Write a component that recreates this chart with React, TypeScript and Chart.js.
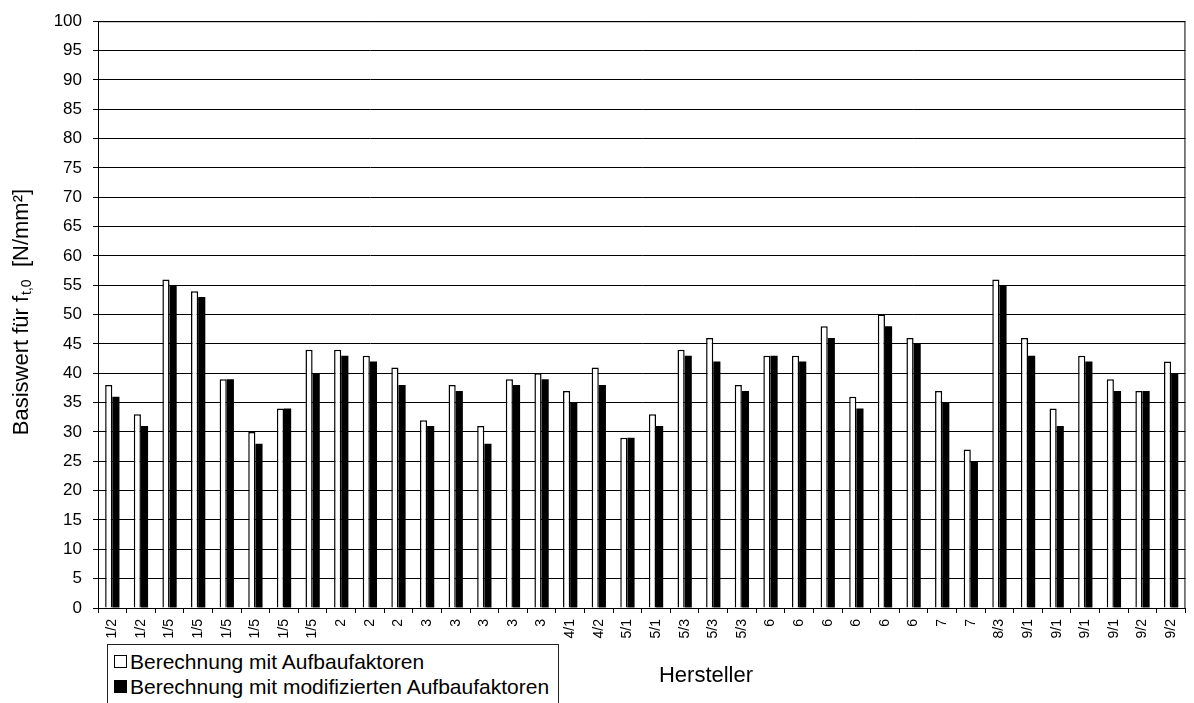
import React, { useEffect, useRef } from "react";
import { Chart, registerables } from "chart.js";

Chart.register(...registerables);

const categories = [
  "1/2", "1/2", "1/5", "1/5", "1/5", "1/5", "1/5", "1/5", "2", "2", "2", "3", "3", "3", "3", "3",
  "4/1", "4/2", "5/1", "5/1", "5/3", "5/3", "5/3", "6", "6", "6", "6", "6", "6", "7", "7", "8/3",
  "9/1", "9/1", "9/1", "9/1", "9/2", "9/2",
];
const withFactors = [
  38, 33, 56, 54, 39, 30, 34, 44, 44, 43, 41, 32, 38, 31, 39, 40,
  37, 41, 29, 33, 44, 46, 38, 43, 43, 48, 36, 50, 46, 37, 27, 56,
  46, 34, 43, 39, 37, 42,
];
const withModifiedFactors = [
  36, 31, 55, 53, 39, 28, 34, 40, 43, 42, 38, 31, 37, 28, 38, 39,
  35, 38, 29, 31, 43, 42, 37, 43, 42, 46, 34, 48, 45, 35, 25, 55,
  43, 31, 42, 37, 37, 40,
];
const yMin = 0;
const yMax = 100;
const yStep = 5;
const yTitleMain = "Basiswert für f";
const yTitleSub = "t,0";
const yTitleEnd = "  [N/mm²]";
const xTitle = "Hersteller";
const legendLabels = ["Berechnung mit Aufbaufaktoren", "Berechnung mit modifizierten Aufbaufaktoren"];

const FONT = '"Liberation Sans", Arial, Helvetica, sans-serif';

const decorPlugin = {
  id: "decor",
  afterDraw(chart: any) {
    const { ctx, chartArea: a } = chart;
    ctx.save();
    ctx.strokeStyle = "#000";
    ctx.lineWidth = 1;
    ctx.strokeRect(a.left + 0.5, a.top + 0.5, a.right - a.left - 1, a.bottom - a.top);

    // y title with subscript
    const F = 22;
    const S = 14;
    ctx.fillStyle = "#000";
    ctx.textBaseline = "middle";
    ctx.textAlign = "left";
    ctx.font = `${F}px ${FONT}`;
    const w1 = ctx.measureText(yTitleMain).width;
    const w3 = ctx.measureText(yTitleEnd).width;
    ctx.font = `${S}px ${FONT}`;
    const w2 = ctx.measureText(yTitleSub).width;
    ctx.save();
    ctx.translate(22, (a.top + a.bottom) / 2 - 2);
    ctx.rotate(-Math.PI / 2);
    let x = -(w1 + w2 + w3) / 2;
    ctx.font = `${F}px ${FONT}`;
    ctx.fillText(yTitleMain, x, 0);
    x += w1 + 1;
    ctx.font = `${S}px ${FONT}`;
    ctx.fillText(yTitleSub, x, 5);
    x += w2;
    ctx.font = `${F}px ${FONT}`;
    ctx.fillText(yTitleEnd, x, 0);
    ctx.restore();

    // x title
    ctx.font = `22px ${FONT}`;
    ctx.textAlign = "center";
    ctx.textBaseline = "middle";
    ctx.fillText(xTitle, 706, 676);
    ctx.restore();
  },
};

function ChartCanvas() {
  const ref = useRef<HTMLCanvasElement | null>(null);
  useEffect(() => {
    if (!ref.current) return;
    const chart = new Chart(ref.current, {
      type: "bar",
      data: {
        labels: categories,
        datasets: [
          {
            label: legendLabels[0],
            data: withFactors,
            backgroundColor: "#ffffff",
            borderColor: "#000000",
            borderWidth: 1.5,
            borderSkipped: "bottom",
            categoryPercentage: 0.5,
            barPercentage: 1.0,
          },
          {
            label: legendLabels[1],
            data: withModifiedFactors,
            backgroundColor: "#000000",
            borderColor: "#000000",
            borderWidth: 0,
            categoryPercentage: 0.5,
            barPercentage: 1.0,
          },
        ],
      },
      options: {
        responsive: false,
        maintainAspectRatio: false,
        animation: false,
        layout: { padding: { left: 0, top: 19, right: 5, bottom: 0 } },
        plugins: {
          legend: { display: false },
          tooltip: { enabled: false },
          title: { display: false },
        },
        scales: {
          x: {
            offset: true,
            grid: {
              offset: true,
              drawOnChartArea: false,
              drawTicks: true,
              tickLength: 5,
              color: "#000",
            },
            border: { display: true, color: "#000", width: 1 },
            ticks: {
              autoSkip: false,
              minRotation: 90,
              maxRotation: 90,
              padding: 6,
              color: "#000",
              font: { family: FONT, size: 14 },
            },
            afterFit: (s: any) => {
              s.height = 95;
            },
          },
          y: {
            min: yMin,
            max: yMax,
            grid: {
              color: "#000",
              lineWidth: 1,
              drawTicks: true,
              tickLength: 5,
            },
            border: { display: true, color: "#000", width: 1 },
            ticks: {
              stepSize: yStep,
              padding: 11,
              color: "#000",
              font: { family: FONT, size: 17 },
            },
            afterFit: (s: any) => {
              s.width = 98;
            },
          },
        },
      },
      plugins: [decorPlugin],
    });
    return () => chart.destroy();
  }, []);
  return <canvas ref={ref} width={1194} height={703} style={{ display: "block", width: 1194, height: 703 }} />;
}

export default function App() {
  const markerBase: React.CSSProperties = {
    display: "inline-block",
    width: 13,
    height: 13,
    border: "1.5px solid #000",
    boxSizing: "border-box",
    marginRight: 3,
    flex: "0 0 auto",
  };
  return (
    <div style={{ position: "absolute", left: 0, top: 0, width: 1194, height: 703, overflow: "hidden", background: "#fff" }}>
      <ChartCanvas />
      <div
        style={{
          position: "absolute",
          left: 107,
          top: 644,
          width: 452,
          height: 80,
          border: "1px solid #222",
          boxSizing: "border-box",
          background: "#fff",
          fontFamily: FONT,
          fontSize: 21,
          lineHeight: "25px",
          paddingTop: 4,
          paddingLeft: 6,
          color: "#000",
        }}
      >
        <div style={{ display: "flex", alignItems: "center", whiteSpace: "nowrap" }}>
          <span style={{ ...markerBase, background: "#fff" }} />
          <span>{legendLabels[0]}</span>
        </div>
        <div style={{ display: "flex", alignItems: "center", whiteSpace: "nowrap" }}>
          <span style={{ ...markerBase, background: "#000" }} />
          <span>{legendLabels[1]}</span>
        </div>
      </div>
    </div>
  );
}
